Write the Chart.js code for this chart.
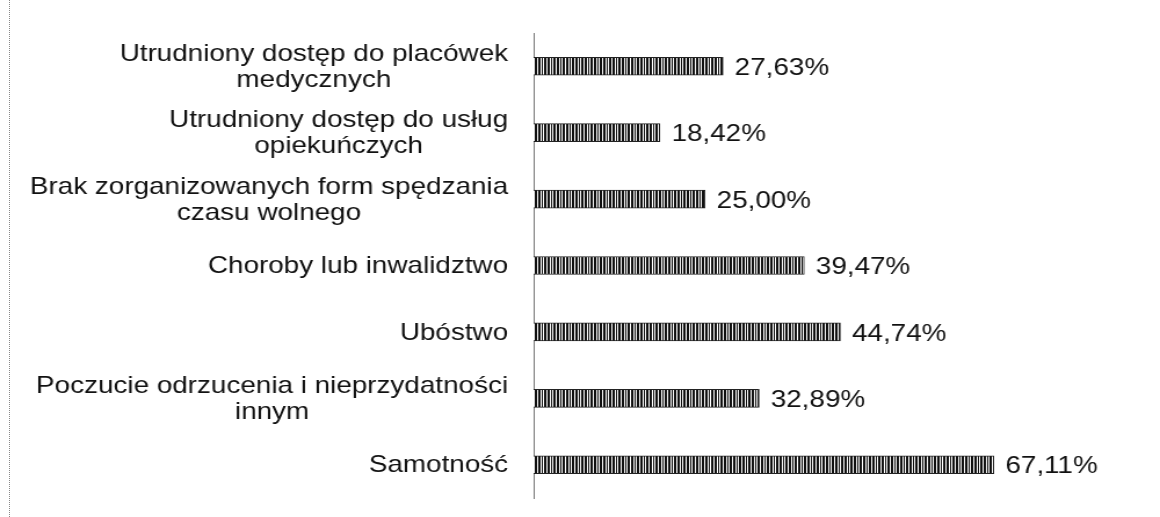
<!DOCTYPE html>
<html><head><meta charset="utf-8">
<script src="https://cdn.jsdelivr.net/npm/chart.js@4.4.1/dist/chart.umd.min.js"></script>
<style>
html,body{margin:0;padding:0;background:#fff;}
#wrap{position:relative;width:1160px;height:517px;overflow:hidden;background:#fff;}
#edge{position:absolute;left:9px;top:0;height:517px;border-left:1px dotted #888;}
canvas{display:block;}
</style></head><body>
<div id="wrap"><div id="edge"></div>
<canvas id="c" width="1000" height="517" style="width:1160px;height:517px"></canvas></div>
<script>
// ---- data ----
const categories = [
  ["Utrudniony dostęp do placówek", "medycznych"],
  ["Utrudniony dostęp do usług", "opiekuńczych"],
  ["Brak zorganizowanych form spędzania", "czasu wolnego"],
  ["Choroby lub inwalidztwo"],
  ["Ubóstwo"],
  ["Poczucie odrzucenia i nieprzydatności", "innym"],
  ["Samotność"]
];
const values = [27.63, 18.42, 25.00, 39.47, 44.74, 32.89, 67.11];

// ---- style ----
const FONT = '24px "Liberation Sans", Arial, sans-serif';
const TEXT = '#111';
const LINE_H = 26;
const LABEL_GAP = 22;

function fmt(v){ return v.toFixed(2).replace('.', ',') + '%'; }

function makePattern(){
  const p = document.createElement('canvas');
  p.width = 8; p.height = 4;
  const g = p.getContext('2d');
  g.fillStyle = '#fff'; g.fillRect(0,0,8,4);
  g.fillStyle = '#111';
  [0,1,3,5,6].forEach(x => g.fillRect(x,0,1,4));
  return document.getElementById('c').getContext('2d').createPattern(p,'repeat');
}

const textPlugin = {
  id: 'textPlugin',
  afterDraw(chart){
    const ctx = chart.ctx;
    const ys = chart.scales.y;
    const meta = chart.getDatasetMeta(0);
    ctx.save();
    ctx.font = FONT;
    ctx.fillStyle = TEXT;
    ctx.textBaseline = 'middle';
    categories.forEach((lines, i) => {
      const w = Math.max(...lines.map(l => ctx.measureText(l).width));
      const cx = chart.chartArea.left - LABEL_GAP - w / 2;
      const cy = ys.getPixelForValue(i);
      ctx.textAlign = 'center';
      lines.forEach((l, k) => {
        ctx.fillText(l, cx, cy + (k - (lines.length - 1) / 2) * LINE_H + 1);
      });
    });
    ctx.textAlign = 'left';
    meta.data.forEach((bar, i) => {
      ctx.fillText(fmt(values[i]), bar.x + 10, bar.y + 2);
    });
    ctx.restore();
  }
};

new Chart(document.getElementById('c'), {
  type: 'bar',
  data: {
    labels: categories,
    datasets: [{
      data: values,
      backgroundColor: makePattern(),
      borderColor: '#222',
      borderWidth: 1,
      barThickness: 18
    }]
  },
  options: {
    indexAxis: 'y',
    responsive: false,
    animation: false,
    devicePixelRatio: 1,
    layout: { padding: { left: 0, right: 8, top: 33, bottom: 19 } },
    plugins: { legend: { display: false }, tooltip: { enabled: false } },
    scales: {
      x: { display: false, min: 0, max: 90 },
      y: {
        grid: { display: false },
        ticks: { display: false },
        border: { display: true, color: '#777', width: 1, dash: [3, 1] },
        afterFit(scale){ scale.width = 460; }
      }
    }
  },
  plugins: [textPlugin]
});
</script>
</body></html>
